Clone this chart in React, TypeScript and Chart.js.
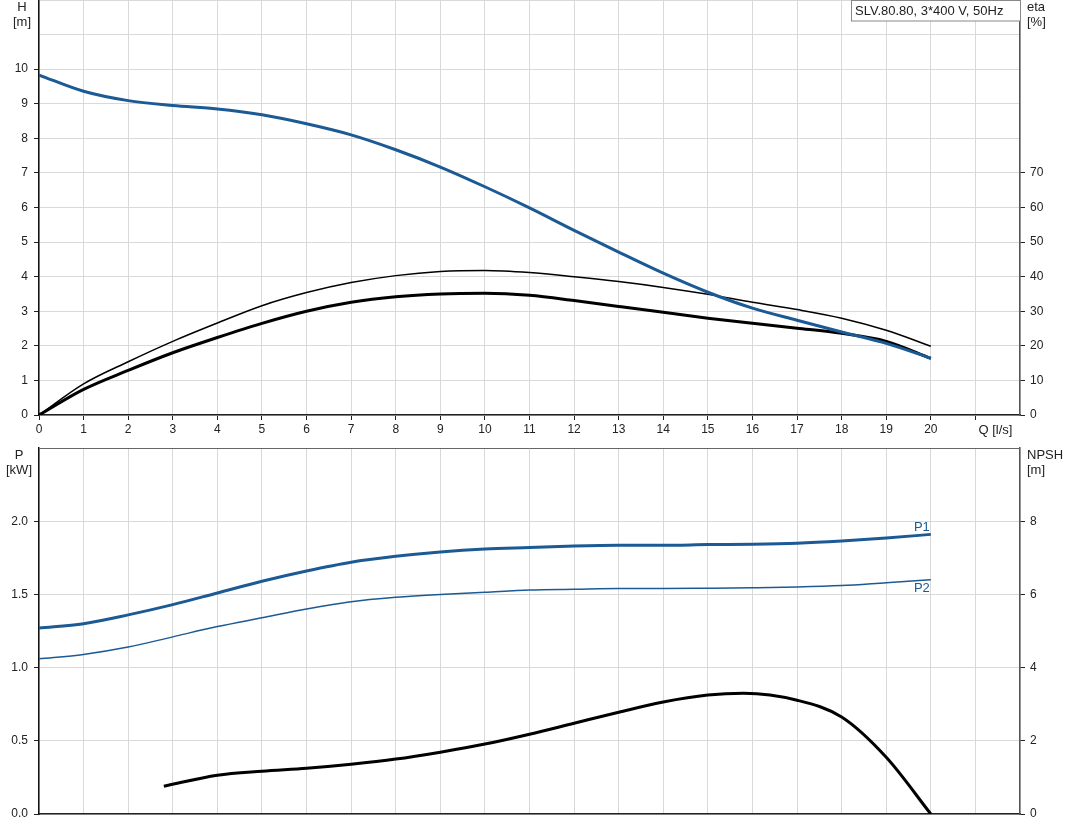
import React, { useEffect, useRef } from "react";
import { Chart, registerables } from "chart.js";

Chart.register(...registerables);

const qValues = [0, 1, 2, 3, 4, 5, 6, 7, 8, 9, 10, 11, 12, 13, 14, 15, 16, 17, 18, 19, 20];
const headValues = [9.83, 9.36, 9.09, 8.95, 8.85, 8.68, 8.42, 8.1, 7.67, 7.17, 6.6, 5.99, 5.34, 4.71, 4.1, 3.55, 3.09, 2.74, 2.4, 2.07, 1.64];
const etaPumpValues = [0, 9.0, 15.4, 21.3, 26.6, 31.6, 35.4, 38.3, 40.3, 41.5, 41.8, 41.2, 40.0, 38.6, 36.9, 34.9, 32.6, 30.5, 28.0, 24.5, 19.9];
const etaTotalValues = [0, 7.4, 12.9, 18.0, 22.4, 26.5, 30.0, 32.6, 34.2, 35.0, 35.2, 34.6, 33.1, 31.4, 29.7, 28.0, 26.5, 25.1, 23.6, 21.3, 16.4];
const p1Values = [1.27, 1.3, 1.36, 1.43, 1.51, 1.59, 1.66, 1.72, 1.76, 1.79, 1.81, 1.82, 1.83, 1.835, 1.835, 1.84, 1.843, 1.85, 1.865, 1.885, 1.91];
const p2Values = [1.06, 1.09, 1.14, 1.21, 1.28, 1.34, 1.4, 1.45, 1.48, 1.5, 1.515, 1.53, 1.535, 1.54, 1.54, 1.542, 1.545, 1.55, 1.56, 1.58, 1.6];
const npshQ = [2.8, 4, 5, 6, 7, 8, 9, 10, 11, 12, 13, 14, 15, 15.8, 17, 18, 19, 20];
const npshValues = [0.76, 1.06, 1.17, 1.25, 1.36, 1.5, 1.69, 1.91, 2.18, 2.48, 2.78, 3.06, 3.25, 3.3, 3.11, 2.65, 1.55, 0];

const qTickLabels = ["0","1","2","3","4","5","6","7","8","9","10","11","12","13","14","15","16","17","18","19","20","",""];
const qAxisTitle = "Q [l/s]";
const hTickMax = 10;
const etaTickMax = 70;
const pTickMax = 2.0;
const npshTickMax = 8;
const titleText = "SLV.80.80, 3*400 V, 50Hz";

const BLUE = "#1b5a94";
const FONT = "'Liberation Sans', Arial, sans-serif";
const GRID = "#d9d9d9";

function pts(xs: number[], ys: number[]) {
  return xs.map((x, i) => ({ x, y: ys[i] }));
}

type Deco = {
  left: string[];
  leftX: number;
  right: string[];
  legend?: string;
  topFrame: boolean;
  qTitle: boolean;
  labels?: { text: string; q: number; y: number; axis: string }[];
};

function makeDecoPlugin(deco: Deco) {
  return {
    id: "deco",
    afterDraw(chart: any) {
      const ctx = chart.ctx;
      const a = chart.chartArea;
      ctx.save();
      if (deco.topFrame) {
        ctx.strokeStyle = "#666";
        ctx.lineWidth = 1;
        ctx.beginPath();
        ctx.moveTo(a.left, a.top + 0.5);
        ctx.lineTo(a.right, a.top + 0.5);
        ctx.stroke();
      }
      ctx.font = `13px ${FONT}`;
      ctx.fillStyle = "#222";
      ctx.textAlign = "center";
      ctx.textBaseline = "middle";
      deco.left.forEach((t, i) => ctx.fillText(t, deco.leftX, a.top + 7.5 + i * 15));
      ctx.textAlign = "left";
      deco.right.forEach((t, i) => ctx.fillText(t, a.right + 7, a.top + 7.5 + i * 15));
      if (deco.qTitle) {
        const xs = chart.scales.x;
        ctx.fillText(qAxisTitle, xs.getPixelForValue(21) + 3, xs.top + 15);
      }
      if (deco.legend) {
        const w = 169;
        const x0 = a.right - w;
        ctx.fillStyle = "#fff";
        ctx.fillRect(x0, a.top, w, 21);
        ctx.strokeStyle = "#888";
        ctx.lineWidth = 1;
        ctx.strokeRect(x0 + 0.5, a.top + 0.5, w, 20.5);
        ctx.fillStyle = "#222";
        ctx.textAlign = "left";
        ctx.fillText(deco.legend, x0 + 4, a.top + 11.5);
      }
      if (deco.labels) {
        const xs = chart.scales.x;
        deco.labels.forEach((l) => {
          const ys = chart.scales[l.axis];
          ctx.fillStyle = BLUE;
          ctx.textAlign = "center";
          ctx.fillText(l.text, xs.getPixelForValue(l.q), ys.getPixelForValue(l.y));
        });
      }
      ctx.restore();
    },
  };
}

function xScale(showLabels: boolean, h: number) {
  return {
    type: "linear",
    min: 0,
    max: 22,
    afterFit: (s: any) => { s.height = h; s.paddingLeft = 0; s.paddingRight = 0; },
    afterBuildTicks: (s: any) => { s.ticks = Array.from({ length: 23 }, (_, i) => ({ value: i })); },
    border: { color: "#222", width: 1.5 },
    grid: {
      color: GRID,
      tickLength: 5,
      tickColor: (c: any) => (showLabels && c.tick && c.tick.value <= 21 ? "#222" : "transparent"),
      drawTicks: true,
    },
    ticks: {
      display: showLabels,
      autoSkip: false,
      maxRotation: 0,
      padding: 2,
      color: "#222",
      font: { family: FONT, size: 12 },
      callback: (v: any) => qTickLabels[v] ?? "",
    },
  };
}

function yScale(pos: string, max: number, step: number, labelMax: number, width: number, decimals: number, grid: boolean) {
  return {
    type: "linear",
    position: pos,
    min: 0,
    max,
    afterFit: (s: any) => { s.width = width; s.paddingTop = 0; s.paddingBottom = 0; },
    border: { color: pos === "left" ? "#111" : "#555", width: 1.5 },
    grid: {
      drawOnChartArea: grid,
      color: GRID,
      tickLength: 5,
      tickColor: (c: any) => (c.tick && c.tick.value <= labelMax + 1e-9 ? "#222" : "transparent"),
    },
    ticks: {
      stepSize: step,
      padding: pos === "left" ? 6 : 5,
      color: "#222",
      font: { family: FONT, size: 12 },
      callback: (v: any) => (v <= labelMax + 1e-9 ? Number(v).toFixed(decimals) : ""),
    },
  };
}

function TopChart() {
  const ref = useRef<HTMLCanvasElement>(null);
  useEffect(() => {
    const chart = new Chart(ref.current as HTMLCanvasElement, {
      type: "line",
      data: {
        datasets: [
          { data: pts(qValues, headValues), yAxisID: "y", borderColor: BLUE, borderWidth: 3 },
          { data: pts(qValues, etaPumpValues), yAxisID: "y2", borderColor: "#000", borderWidth: 1.5 },
          { data: pts(qValues, etaTotalValues), yAxisID: "y2", borderColor: "#000", borderWidth: 3 },
        ] as any,
      },
      options: {
        animation: false,
        responsive: false,
        parsing: false as any,
        layout: { padding: { top: 0, left: 0, right: 0, bottom: 0 } },
        elements: { point: { radius: 0 }, line: { cubicInterpolationMode: "monotone", fill: false } },
        plugins: { legend: { display: false }, tooltip: { enabled: false } },
        scales: {
          x: xScale(true, 26) as any,
          y: yScale("left", 12, 1, hTickMax, 39, 0, true) as any,
          y2: yScale("right", 120, 10, etaTickMax, 51, 0, false) as any,
        },
      },
      plugins: [makeDecoPlugin({ left: ["H", "[m]"], leftX: 22, right: ["eta", "[%]"], legend: titleText, topFrame: false, qTitle: true })],
    });
    return () => chart.destroy();
  }, []);
  return <canvas ref={ref} width={1071} height={441} style={{ position: "absolute", left: 0, top: 0 }} />;
}

function BottomChart() {
  const ref = useRef<HTMLCanvasElement>(null);
  useEffect(() => {
    const chart = new Chart(ref.current as HTMLCanvasElement, {
      type: "line",
      data: {
        datasets: [
          { data: pts(qValues, p1Values), yAxisID: "y", borderColor: BLUE, borderWidth: 3 },
          { data: pts(qValues, p2Values), yAxisID: "y", borderColor: BLUE, borderWidth: 1.5 },
          { data: pts(npshQ, npshValues), yAxisID: "y2", borderColor: "#000", borderWidth: 3 },
        ] as any,
      },
      options: {
        animation: false,
        responsive: false,
        parsing: false as any,
        layout: { padding: { top: 7, left: 0, right: 0, bottom: 0 } },
        elements: { point: { radius: 0 }, line: { cubicInterpolationMode: "monotone", fill: false } },
        plugins: { legend: { display: false }, tooltip: { enabled: false } },
        scales: {
          x: xScale(false, 19) as any,
          y: yScale("left", 2.5, 0.5, pTickMax, 39, 1, true) as any,
          y2: yScale("right", 10, 2, npshTickMax, 51, 0, false) as any,
        },
      },
      plugins: [
        makeDecoPlugin({
          left: ["P", "[kW]"],
          leftX: 19,
          right: ["NPSH", "[m]"],
          topFrame: true,
          qTitle: false,
          labels: [
            { text: "P1", q: 19.8, y: 1.96, axis: "y" },
            { text: "P2", q: 19.8, y: 1.54, axis: "y" },
          ],
        }),
      ],
    });
    return () => chart.destroy();
  }, []);
  return <canvas ref={ref} width={1071} height={392} style={{ position: "absolute", left: 0, top: 441 }} />;
}

export default function App() {
  return (
    <div style={{ position: "fixed", left: 0, top: 0, width: 1071, height: 833, background: "#fff" }}>
      <TopChart />
      <BottomChart />
    </div>
  );
}
